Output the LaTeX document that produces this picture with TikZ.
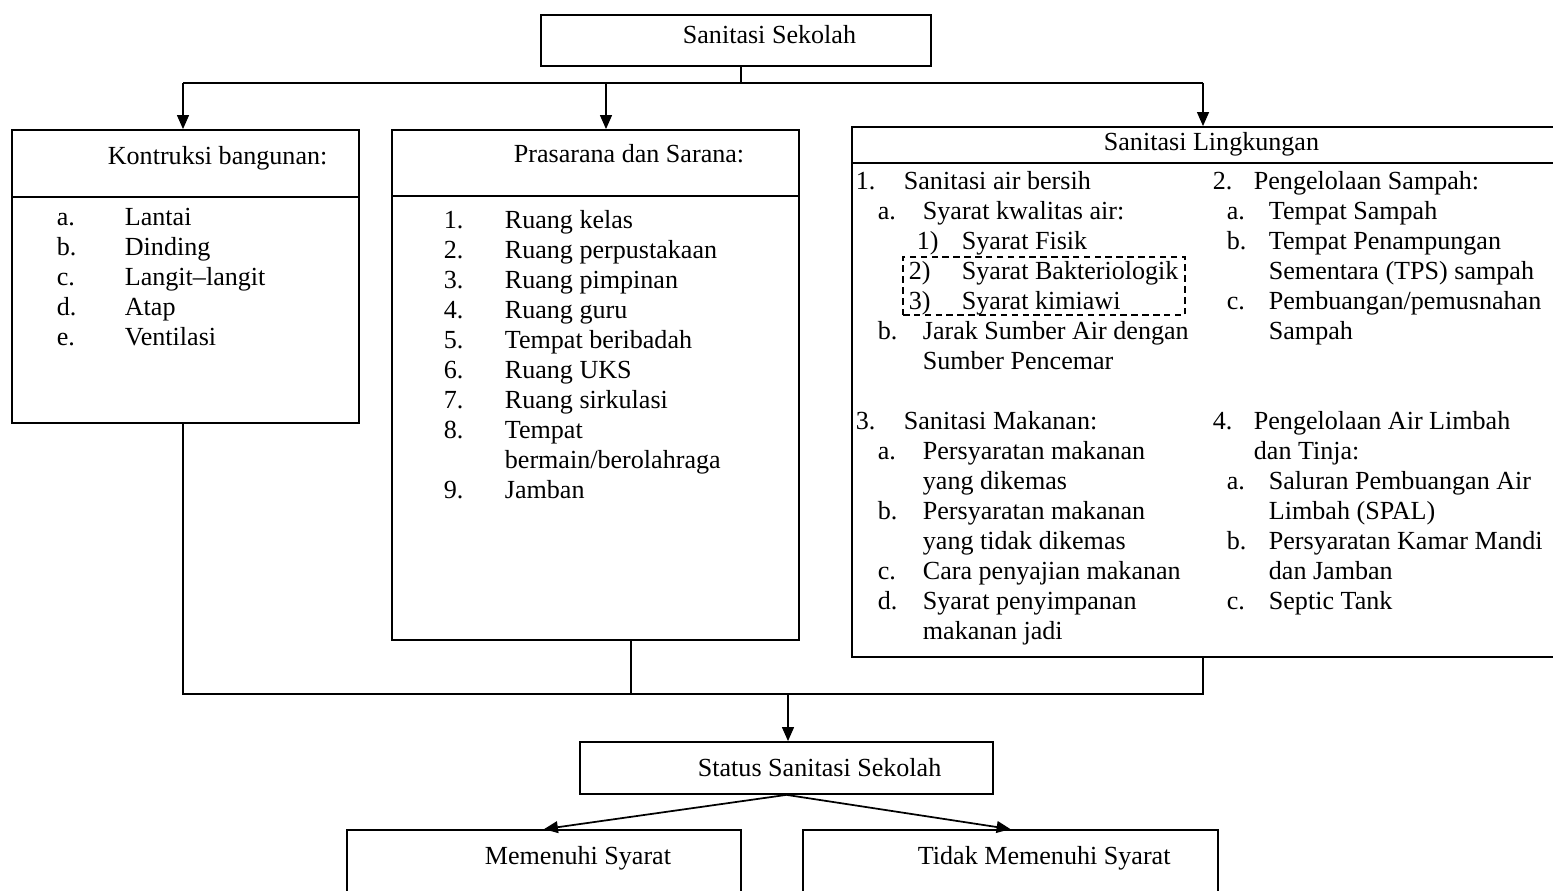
\documentclass[tikz,border=0pt]{standalone}
\usepackage{fontspec}
\setmainfont{Liberation Serif}
\usetikzlibrary{fit,arrows.meta}
\tikzset{every picture/.style={line width=0.8pt}}
\tikzset{
  box/.style={draw,inner sep=0pt},
  txt/.style={anchor=base west,inner sep=0pt,font=\fontsize{12}{14}\selectfont},
}
\begin{document}
\begin{tikzpicture}[x=0.46pt,y=-0.46pt,>={Triangle[length=6.4pt,width=5.4pt]}]
\useasboundingbox (0,0) rectangle (1553,891);
\begin{scope} \clip (0,0) rectangle (1553,891);
	% kotak-kotak
	\node[box,fit={(541,15) (931,66)}] (sek) {};
	\node[box,fit={(12,130) (359,423)}] (kon) {};
	\node[box,fit={(392,130) (799,640)}] (pra) {};
	\node[box,fit={(852,127) (1570,657)}] (lin) {};
	\node[box,dash pattern=on 3pt off 2pt,fit={(903,257) (1185,315)}] (dsh) {};
	\node[box,fit={(580,742) (993,794)}] (sta) {};
	\node[box,fit={(347,830) (741,900)}] (mem) {};
	\node[box,fit={(803,830) (1218,900)}] (tdk) {};
	\draw (kon.west |- 0,197) -- (kon.east |- 0,197);
	\draw (pra.west |- 0,196) -- (pra.east |- 0,196);
	\draw (lin.west |- 0,163) -- (lin.east |- 0,163);
	% judul
	\node[txt] (sek-t) at (682,44) {Sanitasi Sekolah};
	\node[txt] (kon-t) at (107,165) {Kontruksi bangunan:};
	\node[txt] (pra-t) at (513,163) {Prasarana dan Sarana:};
	\node[txt] (lin-t) at (1103,151) {Sanitasi Lingkungan};
	\node[txt] (sta-t) at (697,777) {Status Sanitasi Sekolah};
	\node[txt] (mem-t) at (484,864) {Memenuhi Syarat};
	\node[txt] (tdk-t) at (917,864) {Tidak Memenuhi Syarat};
	% daftar isi
	\foreach \l/\t [count=\i from 0] in {a./Lantai, b./Dinding, c./Langit--langit, d./Atap, e./Ventilasi}{
		\node[txt] (kon-l\i) at (56,226+30*\i) {\l};
		\node[txt] (kon-i\i) at (124,226+30*\i) {\t};
	}
	\foreach \l/\t [count=\i from 0] in {1./Ruang kelas, 2./Ruang perpustakaan, 3./Ruang pimpinan, 4./Ruang guru,
		5./Tempat beribadah, 6./Ruang UKS, 7./Ruang sirkulasi, 8./Tempat, /{bermain/berolahraga}, 9./Jamban}{
		\node[txt] (pra-l\i) at (443,229+30*\i) {\l};
		\node[txt] (pra-i\i) at (504,229+30*\i) {\t};
	}
	\foreach \a/\l/\b/\t [count=\i from 0] in {855/1./903/Sanitasi air bersih, 877/a./922/Syarat kwalitas air:,
		916/1)/961/Syarat Fisik, 908/2)/961/Syarat Bakteriologik, 908/3)/961/Syarat kimiawi,
		877/b./922/Jarak Sumber Air dengan, 877//922/Sumber Pencemar}{
		\node[txt] (air-l\i) at (\a,190+30*\i) {\l};
		\node[txt] (air-i\i) at (\b,190+30*\i) {\t};
	}
	\foreach \a/\l/\b/\t [count=\i from 0] in {1212/2./1253/Pengelolaan Sampah:, 1226/a./1268/Tempat Sampah,
		1226/b./1268/Tempat Penampungan, 1226//1268/Sementara (TPS) sampah,
		1226/c./1268/{Pembuangan/pemusnahan}, 1226//1268/Sampah}{
		\node[txt] (smp-l\i) at (\a,190+30*\i) {\l};
		\node[txt] (smp-i\i) at (\b,190+30*\i) {\t};
	}
	\foreach \a/\l/\b/\t [count=\i from 0] in {855/3./903/Sanitasi Makanan:, 877/a./922/Persyaratan makanan,
		877//922/yang dikemas, 877/b./922/Persyaratan makanan, 877//922/yang tidak dikemas,
		877/c./922/Cara penyajian makanan, 877/d./922/Syarat penyimpanan, 877//922/makanan jadi}{
		\node[txt] (mkn-l\i) at (\a,430+30*\i) {\l};
		\node[txt] (mkn-i\i) at (\b,430+30*\i) {\t};
	}
	\foreach \a/\l/\b/\t [count=\i from 0] in {1212/4./1253/Pengelolaan Air Limbah, 1212//1253/dan Tinja:,
		1226/a./1268/Saluran Pembuangan Air, 1226//1268/Limbah (SPAL),
		1226/b./1268/Persyaratan Kamar Mandi, 1226//1268/dan Jamban, 1226/c./1268/Septic Tank}{
		\node[txt] (lmb-l\i) at (\a,430+30*\i) {\l};
		\node[txt] (lmb-i\i) at (\b,430+30*\i) {\t};
	}
	% garis penghubung atas
	\coordinate (t0) at (741,83);
	\coordinate (tl) at (183,83);
	\coordinate (tm) at (606,83);
	\coordinate (tr) at (1203,83);
	\draw (sek.south -| t0) -- (t0);
	\draw (tl) -- (tr);
	\draw[->] (tl) -- (tl |- kon.north);
	\draw[->] (tm) -- (tm |- pra.north);
	\draw[->] (tr) -- (tr |- lin.north);
	% garis penghubung bawah
	\coordinate (bl) at (183,694);
	\coordinate (bm) at (631,694);
	\coordinate (br) at (1203,694);
	\coordinate (bs) at (788,694);
	\draw (bl |- kon.south) -- (bl) -- (br) -- (br |- lin.south);
	\draw (bm |- pra.south) -- (bm);
	\draw[->] (bs) -- (bs |- sta.north);
	\draw[->] (sta.south) -- (mem.north);
	\draw[->] (sta.south) -- (tdk.north);
\end{scope}
\end{tikzpicture}
\end{document}
